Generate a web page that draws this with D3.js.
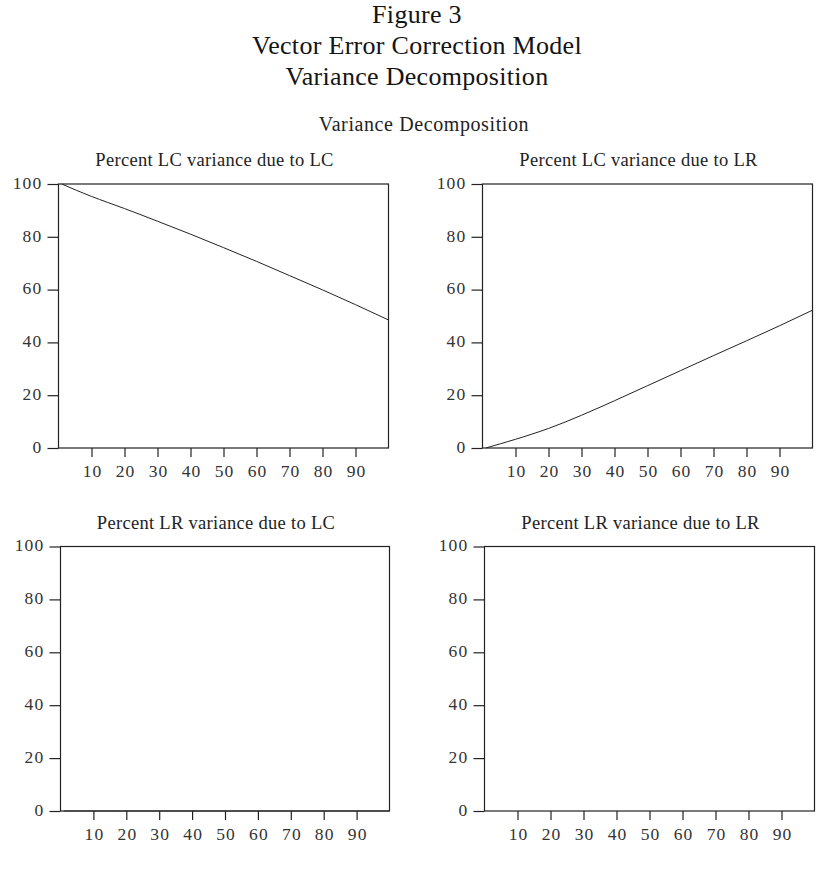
<!DOCTYPE html>
<html>
<head>
<meta charset="utf-8">
<script src="https://d3js.org/d3.v7.min.js"></script>
<style>
  body { margin: 0; background: #fff; }
  text { font-family: "Liberation Serif", "DejaVu Serif", serif; }
</style>
</head>
<body>
<div id="chart"></div>
<script>
// horizon steps
const steps = [1, 10, 20, 30, 40, 50, 60, 70, 80, 90, 100];
const lcDueLc = [100, 95.3, 90.7, 85.9, 81.0, 75.9, 70.7, 65.3, 59.9, 54.3, 48.5];
const lcDueLr = [0, 3.3, 7.4, 12.4, 17.9, 23.6, 29.3, 35.0, 40.6, 46.3, 52.2];
const lrDueLc = [0, 0, 0, 0, 0, 0, 0, 0, 0, 0, 0];
const lrDueLr = [100, 100, 100, 100, 100, 100, 100, 100, 100, 100, 100];
const panelTitles = ["Percent LC variance due to LC", "Percent LC variance due to LR",
                     "Percent LR variance due to LC", "Percent LR variance due to LR"];
const xTicks = [10, 20, 30, 40, 50, 60, 70, 80, 90];
const yTicks = [0, 20, 40, 60, 80, 100];

const W = 830, H = 874;
const svg = d3.select("#chart").append("svg")
  .attr("width", W).attr("height", H);

// header
const head = svg.append("g").attr("fill", "#141414").attr("text-anchor", "middle")
  .attr("font-size", 26).attr("letter-spacing", 0.3);
head.append("text").attr("x", 417).attr("y", 23).text("Figure 3");
head.append("text").attr("x", 417).attr("y", 54).text("Vector Error Correction Model");
head.append("text").attr("x", 417).attr("y", 85).text("Variance Decomposition");
svg.append("text").attr("x", 424).attr("y", 131).attr("text-anchor", "middle")
  .attr("font-size", 20).attr("letter-spacing", 0.6).attr("fill", "#222")
  .text("Variance Decomposition");

const series = [lcDueLc, lcDueLr, lrDueLc, lrDueLr];
// frame boxes for each panel
const boxes = [
  {left: 58.5, top: 184, w: 330, h: 264},
  {left: 482.5, top: 184, w: 330, h: 264},
  {left: 60.5, top: 546.5, w: 329, h: 264.5},
  {left: 484.5, top: 546.5, w: 330, h: 264.5}
];

boxes.forEach((b, i) => {
  const g = svg.append("g").attr("transform", `translate(${b.left},${b.top})`);
  const x = d3.scaleLinear().domain([0, 100]).range([0, b.w]);
  const y = d3.scaleLinear().domain([0, 100]).range([b.h, 0]);

  g.append("text").attr("x", b.w / 2 - 9).attr("y", -18).attr("text-anchor", "middle")
    .attr("font-size", 18.5).attr("letter-spacing", 0.3).attr("fill", "#222")
    .text(panelTitles[i]);

  g.append("rect").attr("width", b.w).attr("height", b.h)
    .attr("fill", "none").attr("stroke", "#222").attr("stroke-width", 1.2);

  const ya = g.append("g").call(d3.axisLeft(y).tickValues(yTicks).tickSize(11).tickPadding(5));
  const xa = g.append("g").attr("transform", `translate(0,${b.h})`)
    .call(d3.axisBottom(x).tickValues(xTicks).tickSize(9).tickPadding(8));
  [ya, xa].forEach(a => {
    a.attr("font-size", null).attr("font-family", null);
    a.select(".domain").remove();
    a.selectAll("line").attr("stroke", "#222").attr("stroke-width", 1.2);
    a.selectAll("text").style("font-size", "17.5px").style("letter-spacing", "1.2px")
      .style("fill", "#333");
  });
  ya.selectAll("text").attr("dy", "0.25em");
  xa.selectAll("text").attr("dx", "0.6px");

  const line = d3.line().x((d, k) => x(steps[k])).y(d => y(d)).curve(d3.curveNatural);
  g.append("path").datum(series[i]).attr("d", line)
    .attr("fill", "none").attr("stroke", "#222").attr("stroke-width", 1);
});
</script>
</body>
</html>
